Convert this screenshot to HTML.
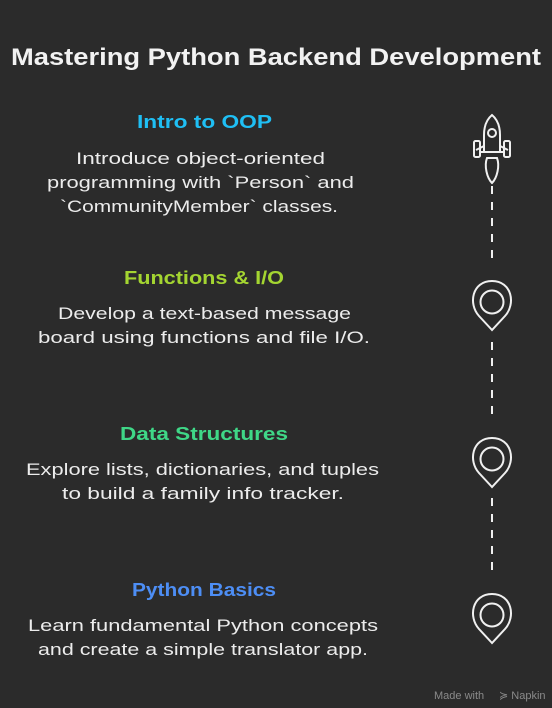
<!DOCTYPE html><html><head><style>body{margin:0;background:#2b2b2b}svg{display:block}</style></head><body>
<svg width="552" height="708" viewBox="0 0 552 708" xmlns="http://www.w3.org/2000/svg">
<rect width="552" height="708" fill="#2b2b2b"/>
<g font-family="Liberation Sans, sans-serif">
<text x="11" y="65" font-size="24" font-weight="bold" fill="#f2f2f2" textLength="530" lengthAdjust="spacingAndGlyphs">Mastering Python Backend Development</text>
<g font-size="18" font-weight="bold">
<text x="137" y="128" fill="#1fbff4" textLength="135" lengthAdjust="spacingAndGlyphs">Intro to OOP</text>
<text x="124" y="284" fill="#a4d531" textLength="160" lengthAdjust="spacingAndGlyphs">Functions &amp; I/O</text>
<text x="120" y="440" fill="#3fd787" textLength="168" lengthAdjust="spacingAndGlyphs">Data Structures</text>
<text x="132" y="596" fill="#4d8ef5" textLength="144" lengthAdjust="spacingAndGlyphs">Python Basics</text>
</g>
<g font-size="17" fill="#ececec">
<text x="76" y="164" textLength="249" lengthAdjust="spacingAndGlyphs">Introduce object-oriented</text>
<text x="47" y="188" textLength="307" lengthAdjust="spacingAndGlyphs">programming with `Person` and</text>
<text x="60" y="212" textLength="278" lengthAdjust="spacingAndGlyphs">`CommunityMember` classes.</text>
<text x="58" y="319" textLength="293" lengthAdjust="spacingAndGlyphs">Develop a text-based message</text>
<text x="38" y="343" textLength="332" lengthAdjust="spacingAndGlyphs">board using functions and file I/O.</text>
<text x="26" y="475" textLength="353" lengthAdjust="spacingAndGlyphs">Explore lists, dictionaries, and tuples</text>
<text x="62" y="499" textLength="282" lengthAdjust="spacingAndGlyphs">to build a family info tracker.</text>
<text x="28" y="631" textLength="350" lengthAdjust="spacingAndGlyphs">Learn fundamental Python concepts</text>
<text x="38" y="655" textLength="330" lengthAdjust="spacingAndGlyphs">and create a simple translator app.</text>
</g>
<text x="434" y="699" font-size="11" fill="#8a8a8a">Made with</text>
<text x="499" y="699" font-size="11" fill="#8a8a8a">≽ Napkin</text>
</g>
<g stroke="#f0f0f0" fill="none" stroke-width="2">
<line x1="492" y1="186" x2="492" y2="266" stroke-dasharray="8,8"/>
<line x1="492" y1="342" x2="492" y2="422" stroke-dasharray="8,8"/>
<line x1="492" y1="498" x2="492" y2="578" stroke-dasharray="8,8"/>
<!-- rocket -->
<path d="M492 115 C486 120 484 128 484 135 L484 152 L500 152 L500 135 C500 128 498 120 492 115Z"/>
<circle cx="492" cy="133" r="4"/>
<path d="M484 146 L476 150 M500 146 L508 150"/>
<rect x="474" y="141" width="6" height="16" rx="1.5"/>
<rect x="504" y="141" width="6" height="16" rx="1.5"/>
<path d="M480 152 L504 152"/>
<path d="M487 158 L497 158 C500 166 497 178 492 183 C487 178 484 166 487 158Z"/>
<!-- pins -->
<g id="p">
<path d="M492 330 L479 316 C468 304 472 281 492 281 C512 281 516 304 505 316 Z"/>
<circle cx="492" cy="302" r="11.5"/>
</g>
<use href="#p" y="157"/>
<use href="#p" y="313"/>
</g>
</svg>
</body></html>
